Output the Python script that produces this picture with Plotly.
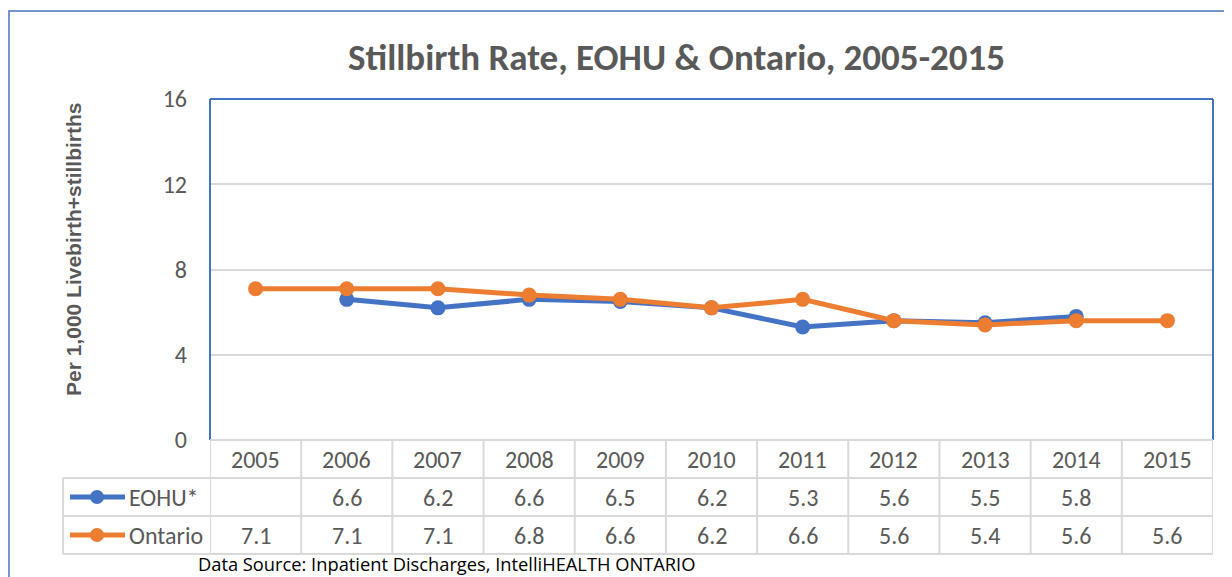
import plotly.graph_objects as go

years = [2005, 2006, 2007, 2008, 2009, 2010, 2011, 2012, 2013, 2014, 2015]
eohu = [None, 6.6, 6.2, 6.6, 6.5, 6.2, 5.3, 5.6, 5.5, 5.8, None]
ontario = [7.1, 7.1, 7.1, 6.8, 6.6, 6.2, 6.6, 5.6, 5.4, 5.6, 5.6]
series_names = ["EOHU*", "Ontario"]
title_text = "Stillbirth Rate, EOHU &amp; Ontario, 2005-2015"
ytitle = "Per 1,000 Livebirth+stillbirths"
source_text = "Data Source: Inpatient Discharges, IntelliHEALTH ONTARIO"

BLUE = "#4472C4"
ORANGE = "#ED7D31"
GRAY_TXT = "#595959"
GRID = "#D9D9D9"
FONT = "Carlito, Lato, sans-serif"
FS = 24

OFF = 8  # page body margin
W, H = 1232 - OFF, 577 - OFF
L, R, T, B = 210, 1213, 99, 440  # absolute pixel positions of plot area


def px(p):
    return (p - L) / (R - L)


def py(p):
    return (B - p) / (B - T)


fig = go.Figure()
fig.add_trace(go.Scatter(x=years, y=eohu, mode="lines+markers", name=series_names[0],
                         line=dict(color=BLUE, width=5), marker=dict(size=15, color=BLUE),
                         connectgaps=False))
fig.add_trace(go.Scatter(x=years, y=ontario, mode="lines+markers", name=series_names[1],
                         line=dict(color=ORANGE, width=5), marker=dict(size=15, color=ORANGE)))

shapes = []
annotations = []

# outer chart border
shapes.append(dict(type="rect", xref="paper", yref="paper", x0=px(9), x1=px(1260), y0=py(600), y1=py(11),
                   line=dict(color=BLUE, width=1.5), layer="below"))
# plot area border (left, top, right)
shapes.append(dict(type="line", xref="paper", yref="paper", x0=0, x1=0, y0=0, y1=1, line=dict(color=BLUE, width=2)))
shapes.append(dict(type="line", xref="paper", yref="paper", x0=0, x1=1, y0=1, y1=1, line=dict(color=BLUE, width=2)))
shapes.append(dict(type="line", xref="paper", yref="paper", x0=1, x1=1, y0=0, y1=1, line=dict(color=BLUE, width=2)))

# table horizontal lines
row_lines = [440, 478, 516, 554]
for i, yy in enumerate(row_lines):
    x0 = 0 if i == 0 else px(63)
    shapes.append(dict(type="line", xref="paper", yref="paper", x0=x0, x1=1, y0=py(yy), y1=py(yy),
                       line=dict(color=GRID, width=2)))
# table vertical lines at category boundaries
for k in range(len(years) + 1):
    xb = years[0] - 0.5 + k
    shapes.append(dict(type="line", xref="x", yref="paper", x0=xb, x1=xb, y0=py(554), y1=py(440),
                       line=dict(color=GRID, width=2)))
shapes.append(dict(type="line", xref="paper", yref="paper", x0=px(63), x1=px(63), y0=py(554), y1=py(478),
                   line=dict(color=GRID, width=2)))

# table rows
row_y = [497, 535]
colors = [BLUE, ORANGE]
for name, vals, ry, c in zip(series_names, [eohu, ontario], row_y, colors):
    shapes.append(dict(type="line", xref="paper", yref="paper", x0=px(70), x1=px(125), y0=py(ry), y1=py(ry),
                       line=dict(color=c, width=5)))
    shapes.append(dict(type="circle", xref="paper", yref="paper", x0=px(90), x1=px(104),
                       y0=py(ry + 7), y1=py(ry - 7), fillcolor=c, line=dict(color=c, width=0)))
    annotations.append(dict(text=name, xref="paper", yref="paper", x=px(127), y=py(ry), xanchor="left",
                            yanchor="middle", showarrow=False, font=dict(size=FS, color=GRAY_TXT, family=FONT)))
    for yr, v in zip(years, vals):
        if v is None:
            continue
        annotations.append(dict(text=f"{v:.1f}", xref="x", yref="paper", x=yr, y=py(ry), xanchor="center",
                                yanchor="middle", showarrow=False,
                                font=dict(size=FS, color=GRAY_TXT, family=FONT)))

# header years
for yr in years:
    annotations.append(dict(text=str(yr), xref="x", yref="paper", x=yr, y=py(459), xanchor="center",
                            yanchor="middle", showarrow=False, font=dict(size=FS, color=GRAY_TXT, family=FONT)))

# title
annotations.append(dict(text="<b>" + title_text + "</b>", xref="paper", yref="paper", x=px(676), y=py(57),
                        xanchor="center", yanchor="middle", showarrow=False,
                        font=dict(size=37, color=GRAY_TXT, family=FONT)))
# y title
annotations.append(dict(text="<b>" + ytitle + "</b>", xref="paper", yref="paper", x=px(73), y=py(249),
                        xanchor="center", yanchor="middle", showarrow=False, textangle=-90,
                        font=dict(size=21, color=GRAY_TXT, family="Liberation Sans, Arial, sans-serif")))
# source
annotations.append(dict(text=source_text, xref="paper", yref="paper", x=px(197), y=py(577),
                        xanchor="left", yanchor="bottom", showarrow=False, borderpad=0,
                        font=dict(size=18.3, color="#000000", family="Open Sans, sans-serif")))

fig.update_layout(
    width=W, height=H,
    margin=dict(l=L - OFF, r=W - (R - OFF), t=T - OFF, b=H - (B - OFF), pad=0),
    paper_bgcolor="white", plot_bgcolor="white",
    showlegend=False,
    shapes=shapes, annotations=annotations,
    xaxis=dict(range=[years[0] - 0.5, years[-1] + 0.5], showticklabels=False, showgrid=False,
               zeroline=False, showline=False, fixedrange=True),
    yaxis=dict(range=[0, 16], tickvals=[0, 4, 8, 12, 16], showgrid=True, gridcolor=GRID, gridwidth=1.5,
               zeroline=False, showline=False, ticks="", ticklabelstandoff=22,
               tickfont=dict(size=FS, color=GRAY_TXT, family=FONT)),
)

fig.write_html("out.html")
